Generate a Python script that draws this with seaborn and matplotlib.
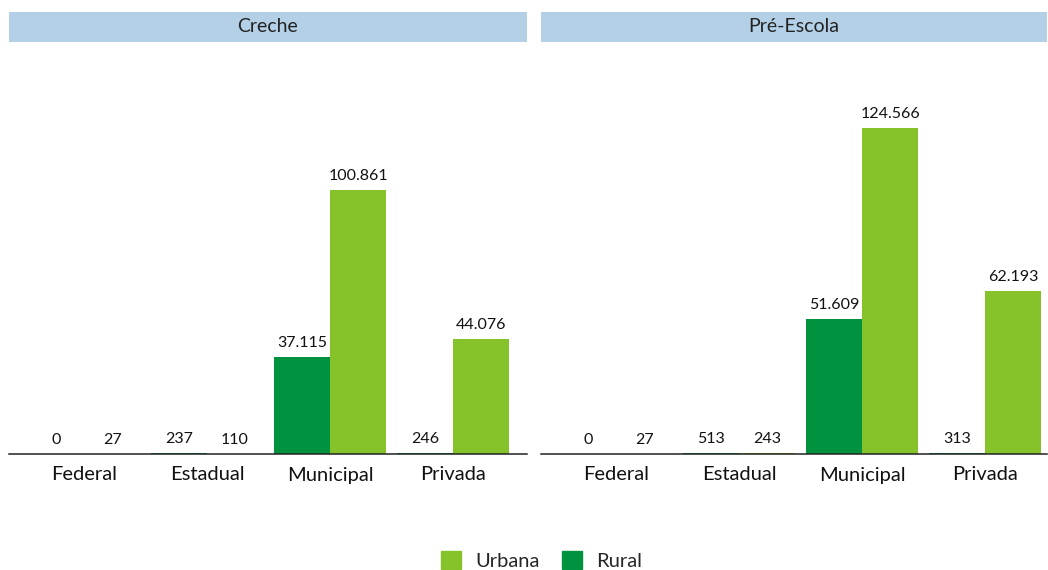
import pandas as pd
import matplotlib
matplotlib.use("Agg")
import matplotlib.pyplot as plt
import seaborn as sns
from matplotlib.patches import Patch

# data
dependencias = ["Federal", "Estadual", "Municipal", "Privada"]
creche_rural = [0, 237, 37115, 246]
creche_urbana = [27, 110, 100861, 44076]
pre_rural = [0, 513, 51609, 313]
pre_urbana = [27, 243, 124566, 62193]
etapas = ["Creche", "Pré-Escola"]

cores = {"Rural": "#00923f", "Urbana": "#86c229"}

rows = []
for etapa, rural, urbana in [("Creche", creche_rural, creche_urbana),
                             ("Pré-Escola", pre_rural, pre_urbana)]:
    for d, r, u in zip(dependencias, rural, urbana):
        rows.append({"etapa": etapa, "dep": d, "loc": "Rural", "valor": r})
        rows.append({"etapa": etapa, "dep": d, "loc": "Urbana", "valor": u})
df = pd.DataFrame(rows)

sns.set_theme(style="white")
plt.rcParams["font.family"] = ["Lato", "DejaVu Sans"]

fig = plt.figure(figsize=(10.48, 5.70), dpi=100)
W, H = 1048, 570

# axes positions in pixels: (left, right)
paineis = [(9, 527, 3.60), (541, 1047, 3.50)]
y_base, y_top = 454, 42

for etapa, (x0, x1, xmax) in zip(etapas, paineis):
    ax = fig.add_axes([x0 / W, (H - y_base) / H, (x1 - x0) / W, (y_base - y_top) / H])
    sub = df[df["etapa"] == etapa]
    sns.barplot(data=sub, x="dep", y="valor", hue="loc", hue_order=["Rural", "Urbana"],
                palette=cores, width=0.91, gap=0, ax=ax, legend=False, saturation=1,
                linewidth=0)
    ax.set_xlim(-0.61, xmax)
    ax.set_ylim(0, 157400)
    for c in ax.containers:
        labels = [f"{int(v):,}".replace(",", ".") for v in c.datavalues]
        ax.bar_label(c, labels=labels, padding=5, fontsize=11.5, color="#111111")
    for s in ["top", "left", "right"]:
        ax.spines[s].set_visible(False)
    ax.spines["bottom"].set_color("#222222")
    ax.spines["bottom"].set_linewidth(1.1)
    ax.set_yticks([])
    ax.set_xlabel("")
    ax.set_ylabel("")
    ax.tick_params(axis="x", length=0, pad=9, labelsize=14.5, labelcolor="#111111")

    # strip header
    sax = fig.add_axes([x0 / W, (H - 42) / H, (x1 - x0) / W, 30 / H])
    sax.set_facecolor("#b3d0e6")
    sax.set_xticks([])
    sax.set_yticks([])
    for s in sax.spines.values():
        s.set_visible(False)
    sax.text(0.5, 0.5, etapa, ha="center", va="center", fontsize=14,
             color="#222222", transform=sax.transAxes)

handles = [Patch(color=cores["Urbana"], label="Urbana"),
           Patch(color=cores["Rural"], label="Rural")]
fig.legend(handles=handles, loc="center", bbox_to_anchor=(0.517, 0.016), ncol=2,
           frameon=False, fontsize=14.5, handlelength=1.0, handleheight=1.0,
           columnspacing=1.1, handletextpad=0.7)

fig.savefig("out.png", dpi=100)
